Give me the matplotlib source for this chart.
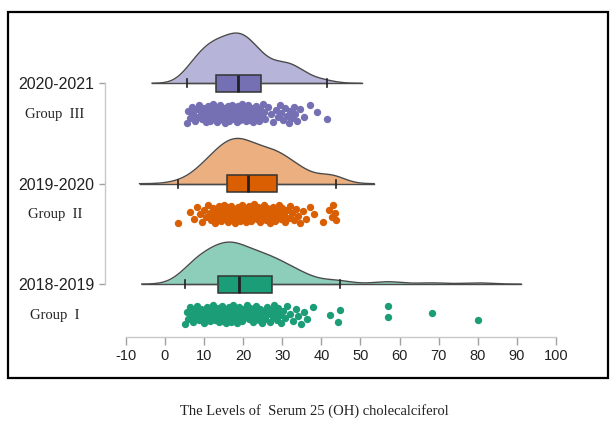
import matplotlib
matplotlib.use("Agg")
import matplotlib.pyplot as plt
import matplotlib.transforms as mtransforms
from matplotlib.patches import Rectangle
import numpy as np

# 各组血清 25(OH) 维生素 D 水平
group_1 = [5.1, 5.6, 6.0, 6.4, 6.8,
           7.1, 7.4, 7.8, 8.1, 8.5, 8.8,
           9.2, 9.5, 9.9, 10.2, 10.5, 10.8,
           11.1, 11.4, 11.7, 12.0, 12.3, 12.6, 12.9,
           13.5, 13.7, 13.9, 14.1, 14.3, 14.5, 14.7, 14.9,
           15.1, 15.4, 15.6, 15.9, 16.1, 16.4, 16.6, 16.9,
           17.1, 17.3, 17.5, 17.7, 17.9, 18.1, 18.3, 18.5, 18.7, 18.85,
           19.0, 19.4, 19.8, 20.2, 20.6, 20.9,
           21.2, 21.5, 21.8, 22.1, 22.4, 22.8,
           23.1, 23.4, 23.7, 24.0, 24.3, 24.6, 24.9,
           25.2, 25.6, 26.0, 26.4, 26.8,
           27.35, 27.6, 27.9, 28.3, 28.6, 28.9,
           29.3, 29.8, 30.3, 30.8, 31.3, 32.0, 32.7, 33.4, 34.0, 34.7,
           35.5, 36.3, 37.9, 42.2, 44.3, 44.8, 57.0, 57.0, 68.3, 80.0]
group_2 = [3.3, 6.5, 7.5, 8.3, 9.0, 9.6, 10.1, 10.6, 11.0, 11.4, 11.8, 12.2, 12.5, 12.8, 13.1,
           13.4, 13.7, 14.0, 14.3, 14.6, 14.9, 15.1, 15.4, 15.6, 15.8,
           16.0, 16.2, 16.4, 16.6, 16.8, 17.0, 17.3, 17.5, 17.7, 17.9, 18.2, 18.4, 18.6, 18.9,
           19.1, 19.3, 19.5, 19.8, 20.0, 20.2, 20.4, 20.6, 20.8, 21.0, 21.1,
           21.4, 21.7, 22.0, 22.3, 22.6, 22.9, 23.2, 23.5, 23.8, 24.1, 24.4, 24.7, 25.0, 25.3,
           25.6, 25.9, 26.2, 26.5, 26.8, 27.1, 27.4, 27.7, 28.0, 28.2, 28.5,
           28.8, 29.1, 29.4, 29.7, 30.0, 30.4, 30.8, 31.2, 31.6, 32.0, 32.5, 33.0, 33.5, 34.0,
           34.6, 35.2, 36.0, 37.0, 38.0, 40.5, 42.0, 42.6, 43.0, 43.4, 43.7]
group_3 = [5.6, 5.9, 6.3, 6.8, 7.3, 7.8,
           8.1, 8.4, 8.8, 9.1, 9.5, 9.8,
           10.1, 10.4, 10.6, 10.9, 11.1, 11.4, 11.6, 11.9,
           12.1, 12.3, 12.5, 12.7, 12.9, 13.2, 13.4, 13.6, 13.9,
           14.2, 14.5, 14.8, 15.0, 15.2, 15.4, 15.7, 15.9,
           16.1, 16.3, 16.5, 16.8, 17.0, 17.2, 17.4, 17.7, 17.9,
           18.1, 18.3, 18.5, 18.6, 18.8, 19.0, 19.2, 19.4, 19.5, 19.7, 19.9,
           20.1, 20.3, 20.5, 20.7, 20.9, 21.1, 21.3, 21.5, 21.7, 21.9,
           22.2, 22.5, 22.8, 23.1, 23.4, 23.7,
           24.1, 24.4, 24.7, 25.0, 25.3, 25.7,
           26.4, 27.0, 27.6, 28.3, 28.8, 29.3, 29.8,
           30.2, 30.7, 31.2, 31.7, 32.1, 32.5, 32.9, 33.3, 33.7,
           34.6, 35.5, 37.0, 39.0, 41.4]

year_labels = ['2018-2019', '2019-2020', '2020-2021']
group_labels = ['Group  I', 'Group  II', 'Group  III']
x_ticks = [-10, 0, 10, 20, 30, 40, 50, 60, 70, 80, 90, 100]
caption = 'The Levels of  Serum 25 (OH) cholecalciferol'

colors = ['#1b9e77', '#d95f02', '#7570b3']
fill_colors = ['#8dcebb', '#ecaf80', '#b7b4d9']


def kde(values):
    # R density() 的默认做法：bw.nrd0，两端各延伸 3 倍带宽
    v = np.asarray(values)
    iqr = np.percentile(v, 75) - np.percentile(v, 25)
    bw = 0.9 * min(v.std(ddof=1), iqr / 1.34) * len(v) ** -0.2
    grid = np.linspace(v.min() - 3 * bw, v.max() + 3 * bw, 400)
    dens = np.exp(-0.5 * ((grid[:, None] - v[None, :]) / bw) ** 2).sum(axis=1)
    dens /= len(v) * bw * np.sqrt(2 * np.pi)
    return grid, dens


fig = plt.figure(figsize=(6.10, 4.23), dpi=100)
ax = fig.add_axes([0.172, 0.2033, 0.7715, 0.7423])

groups = [group_1, group_2, group_3]
curves = [kde(g) for g in groups]
scale = 0.5 / curves[2][1].max()  # 所有组共用一个缩放系数

for i, (g, (gx, gd)) in enumerate(zip(groups, curves)):
    pos = i + 1
    # 半边小提琴（密度）
    ax.fill_between(gx, pos, pos + gd * scale, color=fill_colors[i], lw=0, zorder=1)
    ax.plot(gx, pos + gd * scale, color='#4a4a4a', lw=1.0, zorder=2)
    ax.plot([gx[0], gx[-1]], [pos, pos], color='#4a4a4a', lw=1.0, zorder=2)

    # 抖动散点（确定性的错位，不用随机数）
    vals = np.asarray(g)
    jit = ((np.arange(len(vals)) * 0.6180339887) % 1 - 0.5) * 0.19
    ax.scatter(vals, pos - 0.30 + jit, s=28, color=colors[i], lw=0, zorder=3)

    # 箱线图
    ax.boxplot([g], positions=[pos], vert=False, widths=0.17, showfliers=False,
               patch_artist=True, manage_ticks=False, capwidths=0.08,
               boxprops=dict(facecolor=colors[i], edgecolor='#333333', lw=1.1),
               medianprops=dict(color='#222222', lw=2.0),
               whiskerprops=dict(color='#4a4a4a', lw=1.0),
               capprops=dict(color='#222222', lw=1.2), zorder=4)

ax.set_xlim(-15.35, 105)
ax.set_ylim(0.473, 3.6)
ax.set_xticks(x_ticks)
ax.set_xticklabels([str(t) for t in x_ticks], fontsize=10.5, family='Liberation Sans', color='#222222')
ax.set_yticks([1, 2, 3])
ax.set_yticklabels(year_labels, fontsize=11.5, family='Liberation Sans', color='#222222')

for side in ['top', 'right']:
    ax.spines[side].set_visible(False)
ax.spines['left'].set_bounds(1, 3)
ax.spines['bottom'].set_bounds(-10, 100)
for side in ['left', 'bottom']:
    ax.spines[side].set_color('#c8c8c8')
    ax.spines[side].set_linewidth(1.0)
ax.tick_params(axis='x', length=5.5, width=1.0, color='#a0a0a0', pad=3)
ax.tick_params(axis='y', length=4.5, width=1.0, color='#a0a0a0', pad=3)

# 组名（衬线字体）
trans = mtransforms.blended_transform_factory(fig.transFigure, ax.transData)
for i, lab in enumerate(group_labels):
    ax.text(0.090, i + 1 - 0.31, lab, transform=trans, ha='center', va='center',
            fontsize=10.5, family='Liberation Serif', color='#222222', clip_on=False)

# 外框
fig.patches.append(Rectangle((0.0131, 0.1064), 0.9836, 0.8652, transform=fig.transFigure,
                             fill=False, edgecolor='black', lw=1.6))

fig.text(0.516, 0.028, caption, ha='center', va='center', fontsize=10.5,
         family='Liberation Serif', color='#222222')

fig.savefig('out.png', dpi=100)
